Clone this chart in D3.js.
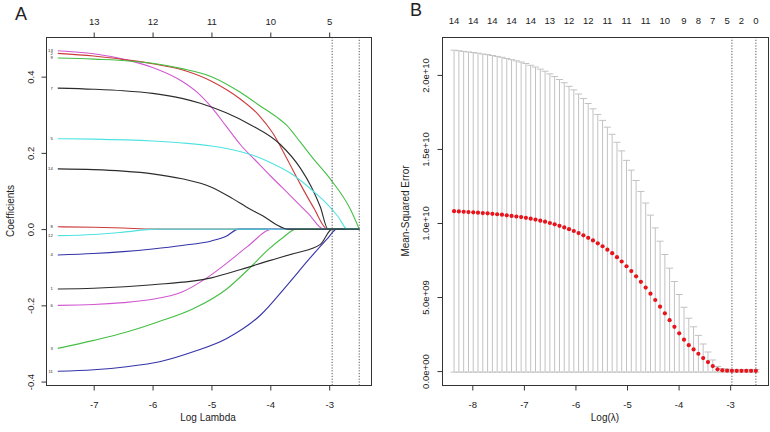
<!DOCTYPE html>
<html><head><meta charset="utf-8">
<script src="https://cdn.jsdelivr.net/npm/d3@7"></script>
<style>
body{margin:0;background:#fff}
svg text{font-family:"Liberation Sans",Arial,Helvetica,sans-serif;fill:#222}
</style>
</head><body>
<svg id="chart" width="770" height="432"></svg>
<script>
// ---------------- Panel A data: lasso coefficient paths (log lambda, coefficient) ----------------
const varLabels = ["8","4","6","3","13","2","7","11","1","5","9","12","14"];
const varColors = ["#cc3b3b","#3434a8","#d058d0","#44bf44","#d058d0","#cc3b3b","#2b2b2b","#3434a8","#2b2b2b","#50e2e2","#44bf44","#50e2e2","#2b2b2b"];
const path8  = [[-7.61,0.006],[-7.0,0.005],[-6.5,0.003],[-6.0,0],[-2.49,0]];
const path4  = [[-7.61,-0.068],[-7.0,-0.064],[-6.5,-0.059],[-6.0,-0.052],[-5.5,-0.043],[-5.0,-0.031],[-4.75,-0.019],[-4.54,0],[-2.49,0]];
const path6  = [[-7.61,-0.200],[-7.0,-0.198],[-6.5,-0.193],[-6.0,-0.184],[-5.5,-0.165],[-5.06,-0.126],[-4.73,-0.088],[-4.39,-0.046],[-3.96,0],[-2.49,0]];
const path3  = [[-7.61,-0.313],[-7.0,-0.292],[-6.44,-0.270],[-5.9,-0.243],[-5.31,-0.209],[-4.74,-0.157],[-4.39,-0.108],[-4.05,-0.056],[-3.8,-0.024],[-3.56,0],[-2.49,0]];
const path13 = [[-7.61,0.468],[-7.0,0.460],[-6.5,0.446],[-6.0,0.424],[-5.5,0.388],[-5.25,0.360],[-5.0,0.320],[-4.75,0.270],[-4.5,0.220],[-4.25,0.180],[-4.0,0.140],[-3.66,0.088],[-3.35,0.040],[-3.09,0],[-2.49,0]];
const path2  = [[-7.61,0.461],[-7.0,0.454],[-6.5,0.445],[-6.0,0.434],[-5.5,0.418],[-5.0,0.388],[-4.5,0.340],[-4.2,0.300],[-3.95,0.250],[-3.72,0.185],[-3.49,0.118],[-3.26,0.055],[-3.03,0],[-2.49,0]];
const path7  = [[-7.61,0.370],[-7.0,0.367],[-6.5,0.363],[-6.0,0.356],[-5.5,0.343],[-5.19,0.330],[-4.75,0.305],[-4.34,0.274],[-3.83,0.222],[-3.49,0.160],[-3.3,0.110],[-3.15,0.058],[-3.02,0],[-2.49,0]];
const path11 = [[-7.61,-0.373],[-7.0,-0.369],[-6.44,-0.361],[-5.88,-0.348],[-5.31,-0.322],[-4.74,-0.287],[-4.17,-0.226],[-3.72,-0.148],[-3.32,-0.075],[-3.03,-0.025],[-2.87,0],[-2.49,0]];
const path1  = [[-7.61,-0.157],[-7.0,-0.155],[-6.0,-0.146],[-5.0,-0.128],[-4.5,-0.106],[-4.0,-0.082],[-3.6,-0.064],[-3.15,-0.040],[-2.95,0],[-2.49,0]];
const path5  = [[-7.61,0.237],[-7.0,0.236],[-6.0,0.231],[-5.5,0.226],[-5.0,0.218],[-4.5,0.203],[-4.26,0.192],[-4.0,0.175],[-3.66,0.147],[-3.26,0.098],[-3.05,0.068],[-2.85,0.033],[-2.69,0],[-2.49,0]];
const path9  = [[-7.61,0.449],[-7.0,0.446],[-6.0,0.435],[-5.5,0.421],[-5.0,0.400],[-4.53,0.361],[-4.19,0.325],[-3.9,0.295],[-3.72,0.272],[-3.49,0.228],[-3.26,0.183],[-2.98,0.131],[-2.64,0.052],[-2.49,0]];
const path12 = [[-7.61,-0.017],[-7.0,-0.014],[-6.5,-0.008],[-5.95,0],[-2.49,0]];
const path14 = [[-7.61,0.158],[-7.0,0.156],[-6.5,0.152],[-6.0,0.145],[-5.5,0.132],[-5.0,0.110],[-4.64,0.080],[-4.34,0.052],[-4.13,0.035],[-3.91,0.013],[-3.70,0],[-2.49,0]];
const pathsA = [path8,path4,path6,path3,path13,path2,path7,path11,path1,path5,path9,path12,path14];
const A_xTicks = [-7,-6,-5,-4,-3];
const A_dfTop  = ["13","12","11","10","5"];
const A_yTicks = [-0.4,-0.2,0.0,0.2,0.4];
const A_vlines = [-2.95,-2.49];

// ---------------- Panel B data: cross-validation curve ----------------
const logLambdaB = [-8.354,-8.261,-8.168,-8.075,-7.982,-7.890,-7.797,-7.704,-7.611,-7.518,
 -7.425,-7.332,-7.239,-7.146,-7.053,-6.961,-6.868,-6.775,-6.682,-6.589,
 -6.496,-6.403,-6.310,-6.217,-6.124,-6.032,-5.939,-5.846,-5.753,-5.660,
 -5.567,-5.474,-5.381,-5.288,-5.195,-5.103,-5.010,-4.917,-4.824,-4.731,
 -4.638,-4.545,-4.452,-4.359,-4.266,-4.174,-4.081,-3.988,-3.895,-3.802,
 -3.709,-3.616,-3.523,-3.430,-3.337,-3.245,-3.152,-3.059,-2.966,-2.873,
 -2.780,-2.687,-2.594,-2.501];
// mean cross-validated MSE (units of 1e10)
const cvmE10 = [1.080,1.078,1.076,1.074,1.072,1.070,1.067,1.065,1.062,1.059,
 1.056,1.052,1.048,1.044,1.040,1.035,1.029,1.023,1.016,1.009,
 1.000,0.991,0.981,0.970,0.958,0.946,0.932,0.917,0.900,0.882,
 0.863,0.843,0.820,0.796,0.769,0.740,0.708,0.675,0.640,0.603,
 0.564,0.523,0.480,0.435,0.390,0.344,0.299,0.255,0.212,0.175,
 0.146,0.117,0.088,0.061,0.034,0.012,0.005,0.003,0.002,0.002,
 0.002,0.002,0.002,0.002];
// standard error of cross-validated MSE (units of 1e10)
const cvsdE10 = [1.087,1.085,1.083,1.081,1.079,1.077,1.074,1.072,1.069,1.066,
 1.063,1.059,1.055,1.051,1.047,1.042,1.036,1.030,1.023,1.016,
 1.007,0.998,0.988,0.977,0.965,0.953,0.939,0.924,0.907,0.889,
 0.870,0.850,0.827,0.803,0.776,0.747,0.715,0.682,0.647,0.610,
 0.571,0.530,0.487,0.442,0.397,0.351,0.306,0.262,0.219,0.182,
 0.153,0.124,0.095,0.068,0.041,0.019,0.012,0.010,0.009,0.009,
 0.009,0.009,0.009,0.009];
const B_topIdx    = [0,4,8,12,16,20,24,28,32,36,40,44,48,51,54,57,60,63];
const B_topLabels = ["14","14","14","14","14","13","12","12","11","11","11","10","9","8","7","5","2","0"];
const B_xTicks = [-8,-7,-6,-5,-4,-3];
const B_yTicks = [0,0.5,1.0,1.5,2.0];
const B_yTickLabels = ["0.0e+00","5.0e+09","1.0e+10","1.5e+10","2.0e+10"];
const B_lambdaMinIdx = 58, B_lambda1seIdx = 63;
const B_barHalfWidth = 0.068;

// ---------------- drawing ----------------
const svg = d3.select("#chart");
svg.append("rect").attr("width",770).attr("height",432).attr("fill","#fff");
const AXC = "#333";
const fmt = d => (d < 0 ? "-" : "") + Math.abs(d);

function box(x0,y0,x1,y1){
  svg.append("rect").attr("x",x0+0.5).attr("y",y0+0.5).attr("width",x1-x0).attr("height",y1-y0)
    .attr("fill","none").attr("stroke",AXC).attr("stroke-width",1);
}
function bottomAxis(x, ticks, y0){
  const g = svg.append("g").attr("transform",`translate(0,${y0+0.5})`)
    .call(d3.axisBottom(x).tickValues(ticks).tickSize(5).tickPadding(11).tickFormat(fmt));
  g.select(".domain").remove();
  g.attr("font-size",9.5).attr("font-family",null).attr("color",AXC);
  g.selectAll("text").attr("fill","#222");
}
function leftAxis(y, ticks, labels, x0, off){
  const g = svg.append("g").attr("transform",`translate(${x0+0.5},0)`)
    .call(d3.axisLeft(y).tickValues(ticks).tickSize(5).tickFormat((d,i)=>labels[i]));
  g.select(".domain").remove();
  g.attr("font-size",9.5).attr("font-family",null).attr("color",AXC);
  g.selectAll(".tick text").attr("x",null).attr("dy","0.35em").attr("text-anchor","middle")
    .attr("fill","#222").attr("transform",`translate(${-off},0) rotate(-90)`);
}
function vline(x, v, y0, y1){
  svg.append("line").attr("x1",x(v)).attr("x2",x(v)).attr("y1",y0).attr("y2",y1)
    .attr("stroke","#555").attr("stroke-width",1).attr("stroke-dasharray","1.2,1.6");
}

// ===== Panel A =====
const AL=46, AR=371, AT=37, AB=385;
const xA = d3.scaleLinear().domain([-7.81,-2.29]).range([AL,AR]);
const yA = d3.scaleLinear().domain([-0.409,0.504]).range([AB,AT]);
const lineA = d3.line().x(d=>xA(d[0])).y(d=>yA(d[1])).curve(d3.curveMonotoneX);
pathsA.forEach((p,i)=>{
  svg.append("path").attr("d",lineA(p)).attr("fill","none").attr("stroke",varColors[i]).attr("stroke-width",1.1);
});
A_vlines.forEach(v=>vline(xA,v,AT,AB));
pathsA.forEach((p,i)=>{
  svg.append("text").attr("x",xA(p[0][0])-5).attr("y",yA(p[0][1])).attr("dy","0.35em")
    .attr("text-anchor","end").attr("font-size",4.2).attr("fill","#333").text(varLabels[i]);
});
box(AL,AT,AR,AB);
bottomAxis(xA, A_xTicks, AB);
{
  const g = svg.append("g").attr("transform",`translate(0,${AT+0.5})`)
    .call(d3.axisTop(xA).tickValues(A_xTicks).tickSize(5).tickPadding(8).tickFormat((d,i)=>A_dfTop[i]));
  g.select(".domain").remove();
  g.attr("font-size",9.5).attr("font-family",null).attr("color",AXC);
  g.selectAll("text").attr("fill","#222");
}
leftAxis(yA, A_yTicks, A_yTicks.map(d=>(d<0?"-":"")+Math.abs(d).toFixed(1)), AL, 16);
svg.append("text").attr("x",208).attr("y",421).attr("text-anchor","middle").attr("font-size",10).text("Log Lambda");
svg.append("text").attr("transform","translate(10,211) rotate(-90)").attr("dy","0.35em").attr("text-anchor","middle").attr("font-size",10).text("Coefficients");
svg.append("text").attr("x",15).attr("y",20).attr("font-size",18).text("A");

// ===== Panel B =====
const BL=442, BR=768, BT=37, BB=385;
const xB = d3.scaleLinear().domain([-8.588,-2.266]).range([BL,BR]);
const yB = d3.scaleLinear().domain([-0.094,2.256]).range([BB,BT]);
const gBars = svg.append("g").attr("stroke","#c2c2c2").attr("stroke-width",1);
logLambdaB.forEach((l,i)=>{
  const up = cvmE10[i]+cvsdE10[i], lo = cvmE10[i]-cvsdE10[i];
  gBars.append("line").attr("x1",xB(l)).attr("x2",xB(l)).attr("y1",yB(up)).attr("y2",yB(lo));
  gBars.append("line").attr("x1",xB(l-B_barHalfWidth)).attr("x2",xB(l+B_barHalfWidth)).attr("y1",yB(up)).attr("y2",yB(up));
  gBars.append("line").attr("x1",xB(l-B_barHalfWidth)).attr("x2",xB(l+B_barHalfWidth)).attr("y1",yB(lo)).attr("y2",yB(lo));
});
vline(xB, logLambdaB[B_lambdaMinIdx], BT, BB);
vline(xB, logLambdaB[B_lambda1seIdx], BT, BB);
svg.append("g").selectAll("circle").data(logLambdaB).join("circle")
  .attr("cx",d=>xB(d)).attr("cy",(d,i)=>yB(cvmE10[i])).attr("r",2.1).attr("fill","#e8141b");
box(BL,BT,BR,BB);
bottomAxis(xB, B_xTicks, BB);
leftAxis(yB, B_yTicks, B_yTickLabels, BL, 17);
svg.append("g").selectAll("text").data(B_topIdx).join("text")
  .attr("x",d=>xB(logLambdaB[d])).attr("y",24).attr("text-anchor","middle").attr("font-size",9.5)
  .text((d,i)=>B_topLabels[i]);
svg.append("text").attr("x",605).attr("y",421).attr("text-anchor","middle").attr("font-size",10).text("Log(λ)");
svg.append("text").attr("transform","translate(405,211) rotate(-90)").attr("dy","0.35em").attr("text-anchor","middle").attr("font-size",10).text("Mean-Squared Error");
svg.append("text").attr("x",410).attr("y",16).attr("font-size",18).text("B");
</script>
</body></html>
